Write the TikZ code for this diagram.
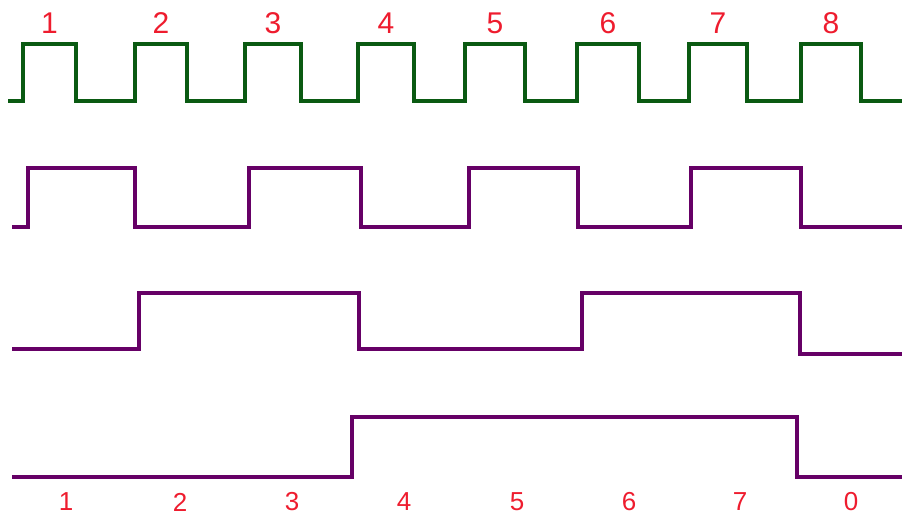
\documentclass[tikz,border=0pt]{standalone}
\usepackage{fontspec}
\setmainfont{Liberation Sans}
\definecolor{cntGreen}{HTML}{0A5A12}
\definecolor{cntPurple}{HTML}{660066}
\definecolor{cntRed}{HTML}{EE1C2E}
\tikzset{
  clkline/.style  = {cntGreen,  line width=3.5pt},
  bitline/.style  = {cntPurple, line width=3.8pt},
  toplbl/.style   = {cntRed, font=\fontsize{30}{32}\selectfont, inner sep=0pt},
  botlbl/.style   = {cntRed, font=\fontsize{26}{28}\selectfont, inner sep=0pt},
}
\begin{document}
\begin{tikzpicture}[x=1pt, y=-1pt]
  \useasboundingbox (0,0) rectangle (902,521);
  % clock: eight pulses, numbered above
  \draw[clkline] (8,101)
    \foreach \r/\f in {23/76,135/187,245/301,358/414,465/525,577/639,689/747,801/861}
      { -- (\r,101) -- (\r,44) -- (\f,44) -- (\f,101) } -- (902,101);
  \foreach \r/\f/\n in {23/76/1,135/187/2,245/301/3,358/414/4,465/525/5,577/639/6,689/747/7,801/861/8}
    \node[toplbl] (clk\n) at ({(\r+\f)/2},23) {\n};
  % bit 0: toggles on every clock edge
  \draw[bitline] (12,227)
    \foreach \r/\f in {28/135,249/361,469/578,691/801}
      { -- (\r,227) -- (\r,168) -- (\f,168) -- (\f,227) } -- (902,227);
  % bit 1
  \draw[bitline, line width=4.2pt] (12,349) -- (139,349) -- (139,293) -- (359,293) -- (359,349)
    -- (582,349) -- (582,293) -- (800,293) -- (800,354) -- (902,354);
  % bit 2
  \draw[bitline, line width=3.4pt] (12,477) -- (352,477) -- (352,417) -- (797,417)
    -- (797,477) -- (902,477);
  % count below
  \foreach \x/\n [count=\i] in {66/1,180/2,292/3,404/4,517/5,629/6,740/7,851/0}
    \node[botlbl] (cnt\i) at (\x,502) {\n};
\end{tikzpicture}
\end{document}
